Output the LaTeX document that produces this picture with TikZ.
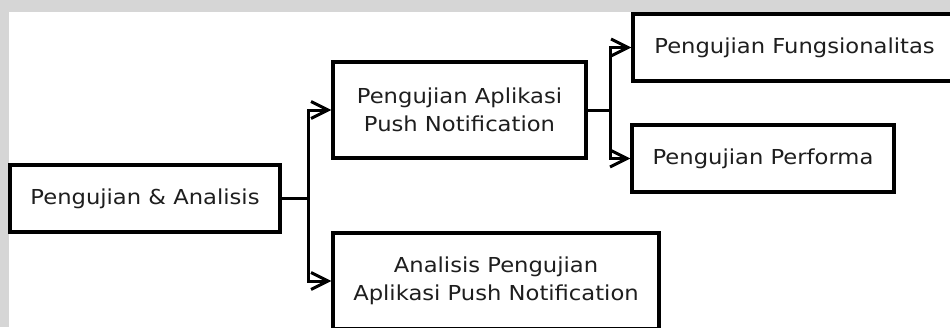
\documentclass[tikz,border=0pt]{standalone}
\usepackage{fontspec}
\setmainfont{DejaVu Sans}[FakeStretch=1.1]
\usetikzlibrary{arrows.meta}
\definecolor{bggray}{HTML}{D6D6D6}
\definecolor{txt}{HTML}{1E1E1E}
\begin{document}
\begin{tikzpicture}[x=1pt,y=-1pt,
  box/.style={draw=black,line width=3.2pt,fill=white,text=txt,align=center,
    inner sep=0pt,font=\fontsize{20.6}{28}\selectfont},
  conn/.style={draw=black,line width=3pt,line join=miter},
  arr/.style={conn,-{Straight Barb[length=17pt,width=17pt]}}]
\useasboundingbox (0,0) rectangle (950,327);
\clip (0,0) rectangle (950,327);
\fill[bggray] (0,0) rectangle (950,327);
\fill[white] (9,12) rectangle (950,327);
\node[box,minimum width=270pt,minimum height=67pt] (b1) at (145,198.5) {Pengujian \& Analisis};
\node[box,minimum width=253pt,minimum height=96pt] (b2) at (459.5,110) {Pengujian Aplikasi\\Push Notification};
\node[box,minimum width=326pt,minimum height=96pt] (b3) at (496,281) {Analisis Pengujian\\Aplikasi Push Notification};
\node[box,minimum width=323pt,minimum height=67pt] (b4) at (794.5,47.5) {Pengujian Fungsionalitas};
\node[box,minimum width=262pt,minimum height=67pt] (b5) at (763,158.5) {Pengujian Performa};
\coordinate (j1) at (308,198.5);
\coordinate (j2) at (610,110);
\draw[conn] (b1.east) -- (j1);
\draw[arr] (j1) |- (b2.west);
\draw[arr] (j1) |- (b3.west);
\draw[conn] (b2.east) -- (j2);
\draw[arr] (j2) |- (b4.west);
\draw[arr] (j2) |- (b5.west);
\end{tikzpicture}
\end{document}
